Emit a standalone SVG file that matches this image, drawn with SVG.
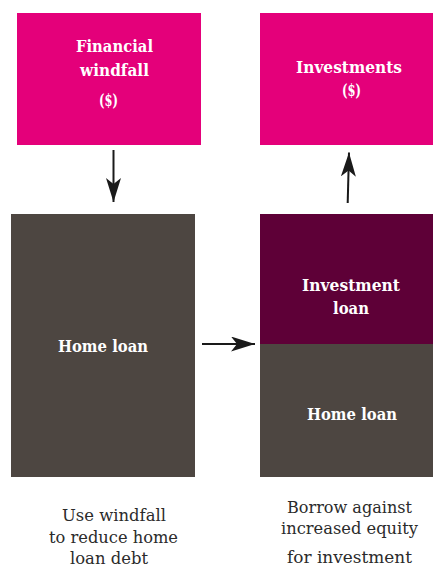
<svg xmlns="http://www.w3.org/2000/svg" width="433" height="570" viewBox="0 0 433 570">
  <style>
    .pink { fill: #E4007A; }
    .brown { fill: #4D4641; }
    .plum { fill: #5E0037; }
    .label { font-family: "DejaVu Serif", "Liberation Serif", serif; font-weight: bold; font-size: 17px; fill: #FFFFFF; text-anchor: middle; }
    .note { font-family: "DejaVu Serif", "Liberation Serif", serif; font-size: 17px; fill: #2B2B2B; text-anchor: middle; }
    .conn { stroke: #1A1A1A; stroke-width: 2; fill: none; marker-end: url(#head); }
  </style>
  <defs>
    <marker id="head" markerUnits="userSpaceOnUse" viewBox="0 0 24 15" markerWidth="24" markerHeight="15" refX="24" refY="7.5" orient="auto">
      <path d="M0,0 L24,7.5 L0,15 L6,7.5 Z" fill="#1A1A1A"/>
    </marker>
  </defs>

  <g id="windfall">
    <rect class="pink" x="17" y="13" width="184" height="132"/>
    <text class="label" x="114.5" y="52" textLength="77" lengthAdjust="spacingAndGlyphs">Financial</text>
    <text class="label" x="114.5" y="76" textLength="69" lengthAdjust="spacingAndGlyphs">windfall</text>
    <text class="label" x="108.5" y="106" textLength="19" lengthAdjust="spacingAndGlyphs">($)</text>
  </g>

  <g id="investments">
    <rect class="pink" x="260" y="13" width="173" height="132"/>
    <text class="label" x="349" y="73" textLength="106" lengthAdjust="spacingAndGlyphs">Investments</text>
    <text class="label" x="351.5" y="96" textLength="19" lengthAdjust="spacingAndGlyphs">($)</text>
  </g>

  <g id="home-loan-before">
    <rect class="brown" x="11" y="214" width="184" height="263"/>
    <text class="label" x="103" y="352" textLength="90" lengthAdjust="spacingAndGlyphs">Home loan</text>
  </g>

  <g id="investment-loan">
    <rect class="plum" x="260" y="214" width="173" height="130"/>
    <text class="label" x="351" y="291" textLength="98" lengthAdjust="spacingAndGlyphs">Investment</text>
    <text class="label" x="351" y="314" textLength="36" lengthAdjust="spacingAndGlyphs">loan</text>
  </g>

  <g id="home-loan-after">
    <rect class="brown" x="260" y="344" width="173" height="133"/>
    <text class="label" x="352" y="420" textLength="90" lengthAdjust="spacingAndGlyphs">Home loan</text>
  </g>

  <g id="captions">
    <text class="note" x="114" y="521" textLength="104" lengthAdjust="spacingAndGlyphs">Use windfall</text>
    <text class="note" x="113.5" y="543" textLength="129" lengthAdjust="spacingAndGlyphs">to reduce home</text>
    <text class="note" x="109" y="564" textLength="78" lengthAdjust="spacingAndGlyphs">loan debt</text>
    <text class="note" x="349.5" y="513" textLength="125" lengthAdjust="spacingAndGlyphs">Borrow against</text>
    <text class="note" x="349.5" y="534" textLength="137" lengthAdjust="spacingAndGlyphs">increased equity</text>
    <text class="note" x="349.5" y="563" textLength="125" lengthAdjust="spacingAndGlyphs">for investment</text>
  </g>

  <g id="connectors">
    <line class="conn" x1="113.5" y1="150" x2="113.5" y2="202"/>
    <line class="conn" x1="202" y1="344" x2="255" y2="344"/>
    <line class="conn" x1="347.7" y1="203" x2="349" y2="152.5"/>
  </g>
</svg>
